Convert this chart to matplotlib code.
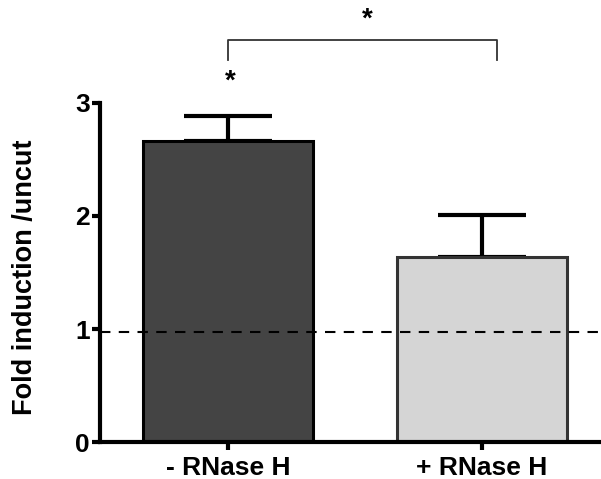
import matplotlib.pyplot as plt

conditions = ['- RNase H', '+ RNase H']
fold_induction = [2.66, 1.64]
sem_upper = [0.22, 0.37]
baseline = 0.97

plt.rcParams['font.family'] = ['Liberation Sans', 'DejaVu Sans']
plt.rcParams['font.weight'] = 'bold'

fig = plt.figure(figsize=(6.01, 4.79), dpi=100)
ax = fig.add_axes([0.166, 0.077, 0.834, 0.923])

x = [0, 1]
ax.bar(x, fold_induction, width=0.67, color=['#444444', '#d5d5d5'],
       edgecolor=['black', '#333333'], linewidth=2.2, zorder=2)
ax.errorbar(x, fold_induction, yerr=[[0, 0], sem_upper], fmt='none',
            ecolor='black', elinewidth=3, capsize=32, capthick=3, zorder=1)

ax.axhline(baseline, color='black', linestyle=(0, (5, 4)), linewidth=1.5, zorder=3)

# significance marks
ax.plot([0, 0, 1.06, 1.06], [3.38, 3.56, 3.56, 3.38], color='#333333', linewidth=1.3)
ax.text(0.55, 3.62, '*', ha='center', va='bottom', fontsize=20)
ax.text(0.01, 3.07, '*', ha='center', va='bottom', fontsize=20)

ax.set_xlim(-0.505, 1.47)
ax.set_ylim(0, 3.91)
ax.set_yticks([0, 1, 2, 3])
ax.set_xticks(x)
ax.set_xticklabels(conditions)
ax.set_ylabel('Fold induction /uncut', fontsize=19.5, fontweight='bold')
ax.yaxis.set_label_coords(-0.124, 0.374)

for s in ['top', 'right']:
    ax.spines[s].set_visible(False)
for s in ['left', 'bottom']:
    ax.spines[s].set_linewidth(3)
ax.spines['left'].set_bounds(0, 3)
ax.tick_params(width=3, length=6, labelsize=19)
ax.tick_params(axis='y', pad=1)
ax.tick_params(axis='x', pad=4)

fig.savefig('out.png', dpi=100)
